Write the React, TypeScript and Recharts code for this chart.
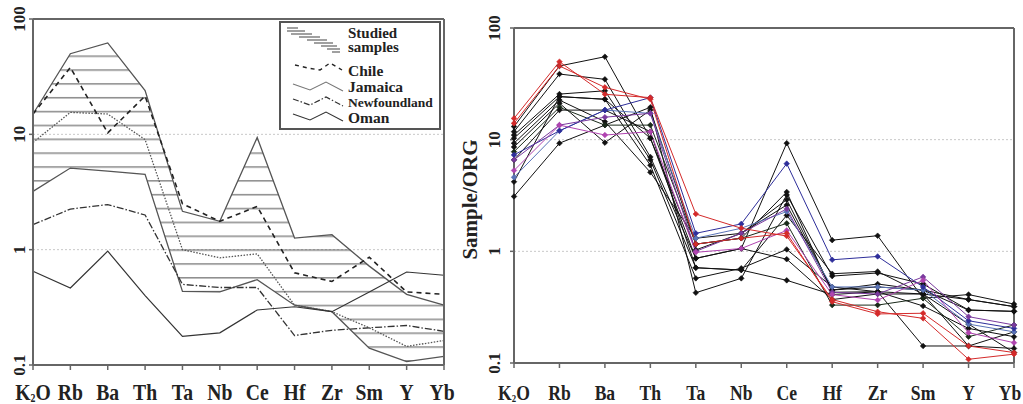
import React from "react";
import {
  ComposedChart,
  Line,
  Area,
  XAxis,
  YAxis,
  CartesianGrid,
  ReferenceLine,
  Legend,
} from "recharts";

const FONT = "'Liberation Serif','Times New Roman',serif";

// ---------- categories & ticks ----------
const CATS = ["K2O", "Rb", "Ba", "Th", "Ta", "Nb", "Ce", "Hf", "Zr", "Sm", "Y", "Yb"];
const Y_TICKS = [0.1, 1, 10, 100];

// ---------- left panel ----------
const studiedUpper = [15, 50, 62, 24, 2.15, 1.76, 9.4, 1.26, 1.35, 0.72, 0.41, 0.33];
const studiedLower = [3.2, 5.1, 4.8, 4.5, 0.435, 0.43, 0.55, 0.33, 0.29, 0.14, 0.107, 0.119];
const chile = [15, 38, 10.3, 21.5, 2.5, 1.76, 2.37, 0.63, 0.53, 0.86, 0.43, 0.41];
const jamaica = [8.5, 15.5, 15, 9.0, 1.0, 0.85, 0.92, 0.33, 0.29, 0.21, 0.145, 0.163];
const newfoundland = [1.65, 2.25, 2.46, 2.0, 0.5, 0.47, 0.47, 0.18, 0.2, 0.21, 0.22, 0.196];
const oman = [0.65, 0.465, 0.97, 0.4, 0.177, 0.19, 0.3, 0.32, 0.29, 0.43, 0.64, 0.6];

// ---------- right panel (samples) ----------
const s01 = [15.5, 49.9, 25.5, 23.8, 2.16, 1.61, 1.37, 0.37, 0.288, 0.251, 0.108, 0.12];
const s02 = [14.0, 45.7, 29.4, 23.0, 1.16, 1.31, 1.45, 0.354, 0.275, 0.279, 0.142, 0.124];
const s03 = [13.1, 45.7, 55.3, 10.3, 1.03, 1.45, 2.9, 0.45, 0.48, 0.45, 0.37, 0.32];
const s04 = [11.8, 38.7, 34.7, 7.0, 0.865, 1.06, 9.3, 1.26, 1.38, 0.38, 0.41, 0.337];
const s05 = [7.3, 12.0, 18.4, 23.8, 1.45, 1.76, 6.1, 0.84, 0.9, 0.48, 0.239, 0.204];
const s06 = [6.6, 13.5, 15.9, 17.2, 1.0, 1.45, 2.4, 0.43, 0.415, 0.59, 0.26, 0.219];
const s07 = [5.3, 13.5, 11.0, 11.8, 0.98, 1.06, 1.54, 0.41, 0.366, 0.55, 0.187, 0.152];
const s08 = [3.1, 9.3, 13.5, 19.5, 0.426, 0.573, 3.2, 0.6, 0.64, 0.51, 0.298, 0.29];
const s09 = [11.0, 25.6, 27.4, 6.6, 0.713, 0.68, 2.1, 0.63, 0.66, 0.415, 0.142, 0.19];
const s10 = [10.3, 24.3, 23.0, 5.9, 0.573, 0.705, 1.04, 0.48, 0.435, 0.142, 0.142, 0.135];
const s11 = [9.3, 22.6, 14.5, 5.1, 1.31, 1.45, 2.6, 0.45, 0.51, 0.45, 0.298, 0.29];
const s12 = [8.6, 21.2, 9.4, 18.4, 1.16, 1.31, 3.4, 0.43, 0.435, 0.324, 0.204, 0.172];
const s13 = [7.8, 19.5, 13.5, 13.5, 1.16, 1.31, 1.78, 0.33, 0.33, 0.38, 0.172, 0.219];
const s14 = [6.6, 18.4, 18.4, 11.8, 0.713, 0.68, 0.55, 0.41, 0.435, 0.415, 0.223, 0.124];
const s15 = [4.2, 24.3, 23.0, 10.3, 0.865, 1.06, 0.85, 0.37, 0.415, 0.415, 0.37, 0.32];
const s16 = [4.6, 12.0, 18.4, 17.2, 1.31, 1.61, 2.27, 0.48, 0.48, 0.45, 0.223, 0.19];

const SAMPLES = [s03, s04, s08, s09, s10, s11, s12, s13, s14, s15, s16, s05, s06, s07, s02, s01];
const SAMPLE_COLORS = [
  "#111", "#111", "#111", "#111", "#111", "#111", "#111", "#1a2a1a", "#111", "#111",
  "#5a74b8", "#2e2e9a", "#7a3a9e", "#b044b0", "#d42a2a", "#d42a2a",
];

const leftRows = CATS.map((c, i) => ({
  cat: c,
  band: [studiedLower[i], studiedUpper[i]],
  upper: studiedUpper[i],
  lower: studiedLower[i],
  chile: chile[i],
  jamaica: jamaica[i],
  newfoundland: newfoundland[i],
  oman: oman[i],
}));

const rightRows = CATS.map((c, i) => {
  const row: any = { cat: c };
  SAMPLES.forEach((s, k) => {
    row["s" + k] = s[i];
  });
  return row;
});

// ---------- ticks ----------
function XTick(props: any) {
  const { x, y, payload, fs, dy, sx, lastShift } = props;
  const v = payload.value;
  const xx = v === "Yb" ? x + (lastShift || 0) : x;
  return (
    <text
      x={xx}
      y={y + dy}
      transform={`translate(${xx} 0) scale(${sx} 1) translate(${-xx} 0)`}
      textAnchor="middle"
      fontFamily={FONT}
      fontWeight="bold"
      fontSize={fs}
      fill="#222"
    >
      {v === "K2O"
        ? [
            <tspan key="a">K</tspan>,
            <tspan key="b" fontSize={fs * 0.5} dy={2}>2</tspan>,
            <tspan key="c" dy={-2}>O</tspan>,
          ]
        : v}
    </text>
  );
}

function YTick(props: any) {
  const { x, y, payload, shift } = props;
  const xx = x + shift;
  return (
    <text
      x={xx}
      y={y}
      transform={`rotate(-90 ${xx} ${y})`}
      textAnchor="middle"
      fontFamily={FONT}
      fontWeight="bold"
      fontSize={17}
      fill="#222"
    >
      {String(payload.value)}
    </text>
  );
}

function SampleLabel(props: any) {
  const vb = props.viewBox || { x: 0, y: 28, width: 64, height: 335 };
  const x = vb.x + 27;
  const y = vb.y + vb.height / 2 + 4;
  return (
    <text
      x={x}
      y={y}
      transform={`rotate(-90 ${x} ${y})`}
      textAnchor="middle"
      fontFamily={FONT}
      fontWeight="bold"
      fontSize={21}
      fill="#222"
    >
      Sample/ORG
    </text>
  );
}

function makeDiamond(color: string) {
  return (p: any) => {
    const { cx, cy, index } = p;
    if (cx == null || cy == null) return <g key={"d" + index} />;
    const r = 2.8;
    return (
      <path
        key={"d" + index}
        d={`M${cx},${cy - r}L${cx + r},${cy}L${cx},${cy + r}L${cx - r},${cy}Z`}
        fill={color}
        stroke={color}
        strokeWidth={0.6}
      />
    );
  };
}

// ---------- legend ----------
function LeftLegend() {
  const ox = 279;
  const oy = 21;
  const P = (pts: number[][]) => pts.map((p) => `${p[0] - ox},${p[1] - oy}`).join(" ");
  const hatch = [
    [287, 28, 298], [287, 31, 305], [291, 34, 312], [299, 37, 320], [307, 40, 327],
    [314, 43, 333], [321, 46, 337], [327, 49, 340], [332, 52, 340],
  ];
  const txt = { fontFamily: FONT, fontWeight: "bold" as const, fill: "#222" };
  return (
    <svg width={162} height={109} style={{ display: "block" }}>
      <rect x={1} y={1} width={160} height={107} fill="#fff" stroke="#555" strokeWidth={2} />
      {hatch.map((h, i) => (
        <line key={i} x1={h[0] - ox} y1={h[1] - oy} x2={h[2] - ox} y2={h[1] - oy} stroke="#888" strokeWidth={1.6} />
      ))}
      <text x={348 - ox} y={38 - oy} fontSize={15} {...txt}>Studied</text>
      <text x={348 - ox} y={52 - oy} fontSize={15} {...txt}>samples</text>
      <polyline points={P([[295, 65], [308, 68], [320, 70], [330, 63], [342, 70]])} fill="none" stroke="#222" strokeWidth={1.4} strokeDasharray="4 4" />
      <text x={348 - ox} y={76 - oy} fontSize={15.5} {...txt}>Chile</text>
      <polyline points={P([[293, 84], [310, 90], [326, 82], [343, 91]])} fill="none" stroke="#777" strokeWidth={1.1} />
      <text x={348 - ox} y={92 - oy} fontSize={15.5} {...txt}>Jamaica</text>
      <polyline points={P([[293, 99], [310, 105], [326, 97], [343, 106]])} fill="none" stroke="#333" strokeWidth={1.2} strokeDasharray="6 2 1.5 2" />
      <text x={348 - ox} y={107 - oy} fontSize={13.5} {...txt}>Newfoundland</text>
      <polyline points={P([[293, 114], [310, 120], [326, 112], [343, 121]])} fill="none" stroke="#333" strokeWidth={1.1} />
      <text x={348 - ox} y={123 - oy} fontSize={15.5} {...txt}>Oman</text>
    </svg>
  );
}

const axisLine = { stroke: "#666", strokeWidth: 2 };
const tickLine = { stroke: "#666", strokeWidth: 1.5 };

export default function App() {
  return (
    <div style={{ position: "absolute", left: 0, top: 0, width: 1023, height: 404, background: "#fff" }}>
      <svg width={0} height={0} style={{ position: "absolute" }}>
        <defs>
          <pattern id="hatchFill" patternUnits="userSpaceOnUse" x={0} y={13.85} width={10} height={13.85}>
            <line x1={0} y1={0.8} x2={10} y2={0.8} stroke="#3a3a3a" strokeWidth={1.5} />
          </pattern>
        </defs>
      </svg>

      {/* Left panel */}
      <div style={{ position: "absolute", left: 0, top: 0 }}>
        <ComposedChart width={462} height={404} data={leftRows} margin={{ top: 19, right: 18, bottom: 0, left: 0 }}>
          <CartesianGrid vertical={false} stroke="#c8c8c8" strokeDasharray="2 2" />
          <XAxis
            dataKey="cat"
            height={39}
            axisLine={axisLine}
            tickLine={tickLine}
            tickSize={5}
            interval={0}
            tick={(p: any) => <XTick {...p} fs={24} dy={28} sx={0.82} lastShift={-2} />}
          />
          <YAxis
            width={33}
            scale="log"
            domain={[0.1, 100]}
            ticks={Y_TICKS}
            allowDataOverflow
            axisLine={axisLine}
            tickLine={tickLine}
            tickSize={4}
            tick={(p: any) => <YTick {...p} shift={-2} />}
          />
          <Area dataKey="band" fill="url(#hatchFill)" stroke="none" isAnimationActive={false} />
          <Line dataKey="upper" stroke="#555" strokeWidth={1.3} dot={false} activeDot={false} isAnimationActive={false} />
          <Line dataKey="lower" stroke="#555" strokeWidth={1.3} dot={false} activeDot={false} isAnimationActive={false} />
          <Line dataKey="jamaica" stroke="#555" strokeWidth={1.3} strokeDasharray="1.5 1.5" dot={false} activeDot={false} isAnimationActive={false} />
          <Line dataKey="newfoundland" stroke="#333" strokeWidth={1.3} strokeDasharray="7 2 1.5 2" dot={false} activeDot={false} isAnimationActive={false} />
          <Line dataKey="oman" stroke="#333" strokeWidth={1.2} dot={false} activeDot={false} isAnimationActive={false} />
          <Line dataKey="chile" stroke="#222" strokeWidth={1.6} strokeDasharray="5 4" dot={false} activeDot={false} isAnimationActive={false} />
          <ReferenceLine y={100} stroke="#666" strokeWidth={2} />
          <ReferenceLine x="Yb" stroke="#666" strokeWidth={2} />
          <Legend
            content={<LeftLegend />}
            layout="vertical"
            align="center"
            verticalAlign="middle"
            wrapperStyle={{ position: "absolute", left: 279, top: 21, width: 162, height: 109 }}
          />
        </ComposedChart>
      </div>

      {/* Right panel */}
      <div style={{ position: "absolute", left: 450, top: 0 }}>
        <ComposedChart width={573} height={404} data={rightRows} margin={{ top: 28, right: 9, bottom: 0, left: 0 }}>
          <CartesianGrid vertical={false} stroke="#c8c8c8" strokeDasharray="2 2" />
          <XAxis
            dataKey="cat"
            height={41}
            axisLine={axisLine}
            tickLine={tickLine}
            tickSize={5}
            interval={0}
            tick={(p: any) => <XTick {...p} fs={20} dy={30} sx={0.88} lastShift={-4} />}
          />
          <YAxis
            width={64}
            scale="log"
            domain={[0.1, 100]}
            ticks={Y_TICKS}
            allowDataOverflow
            axisLine={axisLine}
            tickLine={tickLine}
            tickSize={4}
            tick={(p: any) => <YTick {...p} shift={-8} />}
            label={<SampleLabel />}
          />
          {SAMPLES.map((s, k) => (
            <Line
              key={"s" + k}
              dataKey={"s" + k}
              stroke={SAMPLE_COLORS[k]}
              strokeWidth={1}
              dot={makeDiamond(SAMPLE_COLORS[k])}
              activeDot={false}
              isAnimationActive={false}
            />
          ))}
          <ReferenceLine y={100} stroke="#666" strokeWidth={2} />
          <ReferenceLine x="Yb" stroke="#666" strokeWidth={2} />
        </ComposedChart>
      </div>
    </div>
  );
}
